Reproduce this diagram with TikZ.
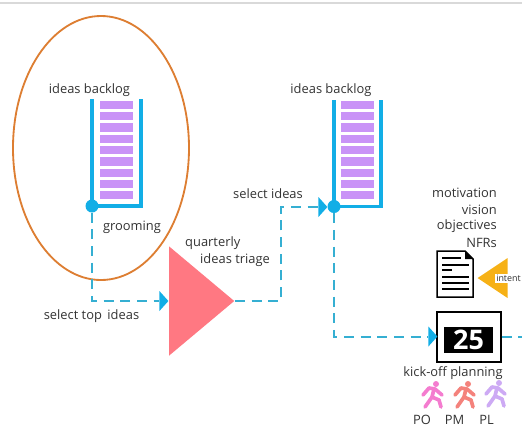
\documentclass[tikz,border=0pt]{standalone}
\usepackage{fontspec}
\setmainfont{Open Sans}
\usetikzlibrary{arrows.meta}
\usetikzlibrary{shapes.geometric}
\definecolor{rimorange}{HTML}{DD7E32}
\definecolor{flowblue}{HTML}{12AEE6}
\definecolor{dashblue}{HTML}{35AFD2}
\definecolor{ideapurple}{HTML}{C993F7}
\definecolor{triagered}{HTML}{FF7882}
\definecolor{intentyellow}{HTML}{F6B116}
\definecolor{runpink}{HTML}{F47CCF}
\definecolor{runred}{HTML}{F4827C}
\definecolor{runlilac}{HTML}{CDAAF4}
\tikzset{
  every node/.style={font=\fontsize{11pt}{13pt}\selectfont, text=black!80, inner sep=0pt},
  ideabar/.style={fill=ideapurple, minimum width=9.9mm, minimum height=2.5mm},
  rail/.style={draw=flowblue, line width=1mm},
  dot/.style={circle, fill=flowblue, minimum size=3.9mm},
  flow/.style={draw=dashblue, line width=0.6mm, dash pattern=on 3mm off 2mm},
  wedge/.style={isosceles triangle, isosceles triangle stretches, fill=flowblue, shape border rotate=0, minimum width=6mm, minimum height=2.7mm},
  docline/.style={draw=black, line width=0.4mm},
  runner/.style={line width=1.1mm, line cap=round, line join=round},
}
\newcommand{\runfig}[3]{%
\fill[#3] (#1+3,#2-10) circle (3);
\draw[runner,#3] (#1-10,#2+1) -- (#1-4,#2-6) -- (#1+2,#2-5) -- (#1+9,#2+1);
\draw[runner,#3] (#1+1,#2-5) -- (#1-1,#2+3) -- (#1-8,#2+13);
\draw[runner,#3] (#1-1,#2+3) -- (#1+6,#2+6) -- (#1+8,#2+13);
}
\begin{document}
\begin{tikzpicture}[x=0.3mm,y=-0.3mm]
\useasboundingbox (0,0) rectangle (522,426);
\draw[black!15, line width=0.6mm] (0,3) -- (522,3);

% first backlog
\draw[draw=rimorange, line width=0.55mm] (101,148) ellipse (88 and 132);
\node[ideabar] (a1) at (116.5,105) {};
\node[ideabar] (a2) at (116.5,116.3) {};
\node[ideabar] (a3) at (116.5,127.6) {};
\node[ideabar] (a4) at (116.5,138.9) {};
\node[ideabar] (a5) at (116.5,150.2) {};
\node[ideabar] (a6) at (116.5,161.5) {};
\node[ideabar] (a7) at (116.5,172.8) {};
\node[ideabar] (a8) at (116.5,184.1) {};
\node[ideabar] (a9) at (116.5,195) {};
\node[dot] (dotA) at (92,206) {};
\coordinate (railAl) at (92,99);
\coordinate (railAr) at (141,99);
\draw[rail] (railAl) -- (dotA.center) -- (141,206) -- (railAr);
\node (labA) at (89.5,90) {ideas backlog};
\node (groom) at (132,227) {grooming};

% triage
\node[wedge, fill=triagered, minimum width=32.7mm, minimum height=19.5mm, anchor=lower side] (triage) at (169,301) {};
\node[wedge, anchor=apex] (wedgeA) at (169,301) {};
\coordinate (cornerA) at (92,301);
\draw[flow] (dotA) -- (cornerA) -- (wedgeA.lower side);
\node (seltop) at (91.5,316) {select top\, ideas};
\node[anchor=west] (quart) at (185,243) {quarterly};
\node[anchor=west] (triag) at (200,260) {ideas triage};

% second backlog
\node[ideabar] (b1) at (357.5,105) {};
\node[ideabar] (b2) at (357.5,116.3) {};
\node[ideabar] (b3) at (357.5,127.6) {};
\node[ideabar] (b4) at (357.5,138.9) {};
\node[ideabar] (b5) at (357.5,150.2) {};
\node[ideabar] (b6) at (357.5,161.5) {};
\node[ideabar] (b7) at (357.5,172.8) {};
\node[ideabar] (b8) at (357.5,184.1) {};
\node[ideabar] (b9) at (357.5,195) {};
\node[dot] (dotB) at (334,206.5) {};
\coordinate (railBl) at (334,100);
\coordinate (railBr) at (381,100);
\draw[rail] (railBl) -- (dotB.center) -- (381,206.5) -- (railBr);
\node (labB) at (331,90) {ideas backlog};
\node[wedge, anchor=apex] (wedgeB) at (328,207) {};
\coordinate (cornerB) at (281,301);
\coordinate (cornerC) at (281,207);
\draw[flow] (triage.apex) -- (cornerB) -- (cornerC) -- (wedgeB.lower side);
\node (selid) at (268,194) {select ideas};

% motivation text and document
\node[anchor=east] (mot) at (497,193) {motivation};
\node[anchor=east] (vis) at (497,210) {vision};
\node[anchor=east] (obj) at (497,226) {objectives};
\node[anchor=east] (nfr) at (497,243) {NFRs};
\draw[draw=black, fill=white, line width=0.45mm] (437,251) -- (465,251) -- (473,259) -- (473,297) -- (437,297) -- cycle;
\fill[black] (465,251) -- (473,259) -- (465,259) -- cycle;
\draw[docline] (442,258) -- (461,258);
\draw[docline] (442,265) -- (469,265);
\draw[docline] (442,270) -- (452,270);
\draw[docline] (442,277) -- (469,277);
\draw[docline] (442,283) -- (469,283);
\draw[docline] (442,289) -- (469,289);
\node[isosceles triangle, isosceles triangle stretches, fill=intentyellow, minimum width=12mm, minimum height=9mm, shape border rotate=180, anchor=apex] (intent) at (477,278) {};
\node[fill=white, font=\fontsize{7.6pt}{8pt}\selectfont, minimum height=2.7mm, minimum width=8.1mm] (intentlab) at (508.5,278) {intent};

% planning
\node[draw=black, fill=white, line width=0.6mm, minimum width=19.2mm, minimum height=14.8mm] (plan) at (468.5,337) {};
\node[fill=black, minimum width=14.7mm, minimum height=7.6mm] (num) at (468.5,340) {};
\node[text=white, font=\bfseries\fontsize{23pt}{24pt}\selectfont] (numtext) at (num) {25};
\node[wedge, anchor=apex] (wedgeC) at (438,336.5) {};
\coordinate (cornerD) at (334,336.5);
\coordinate (outR) at (522,336.5);
\draw[flow] (dotB) -- (cornerD) -- (wedgeC.lower side);
\draw[flow] (plan.east |- outR) -- (outR);
\node (kick) at (453,373) {kick-off planning};
\runfig{433}{394}{runpink}
\runfig{465}{394}{runred}
\runfig{496}{393}{runlilac}
\node (po) at (422,420) {PO};
\node (pm) at (454.5,420) {PM};
\node (pl) at (486.5,420) {PL};
\end{tikzpicture}
\end{document}
